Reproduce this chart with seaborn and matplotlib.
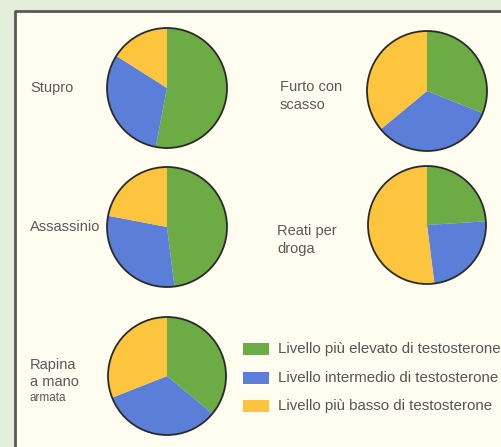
import matplotlib
matplotlib.use("Agg")
import matplotlib.pyplot as plt
from matplotlib.patches import Rectangle, Circle
import seaborn as sns

sns.set_theme(style="white")
plt.rcParams['font.family'] = ['Liberation Sans', 'DejaVu Sans']

# ---- data ----
crimes = ["Stupro", "Furto con\nscasso", "Assassinio", "Reati per\ndroga", "Rapina\na mano\narmata"]
levels = ["Livello più elevato di testosterone",
          "Livello intermedio di testosterone",
          "Livello più basso di testosterone"]
high = [53, 31, 48, 24, 36]
mid = [31, 33, 30, 24, 33]
low = [16, 36, 22, 52, 31]

colors = ["#6dab45", "#5b7fd8", "#fcc53d"]
W, H = 502, 447
fig = plt.figure(figsize=(W / 100, H / 100), dpi=100)
fig.patch.set_facecolor("#e3eedb")

bg = fig.add_axes([0, 0, 1, 1])
bg.set_xlim(0, W)
bg.set_ylim(H, 0)
bg.axis("off")
bg.add_patch(Rectangle((15, 11), W, H, facecolor="#fffdf0", edgecolor="none"))
bg.plot([15, 15, W], [H, 11, 11], color="#5a5a55", lw=2, solid_capstyle="butt")

# pie layout (pixel centres, radius)
layout = [(167, 88, 60), (427, 91, 60), (167, 227, 60), (427, 225, 59), (167, 376, 59)]
label_pos = [(30, 88), (280, 96), (30, 227), (277, 240), (30, 381)]

for i, (cx, cy, r) in enumerate(layout):
    pad = r + 3
    ax = fig.add_axes([(cx - pad) / W, 1 - (cy + pad) / H, 2 * pad / W, 2 * pad / H])
    ax.pie([high[i], mid[i], low[i]], colors=colors, startangle=90, counterclock=False,
           radius=1.0, wedgeprops=dict(linewidth=0))
    ax.add_patch(Circle((0, 0), 1.0, fill=False, edgecolor="#2a2a2a", lw=1.3))
    lim = pad / r
    ax.set_xlim(-lim, lim)
    ax.set_ylim(-lim, lim)
    ax.set_aspect("equal")
    ax.axis("off")

tc = "#5a5a5a"
for i, (lx, ly) in enumerate(label_pos):
    if i == 4:
        parts = crimes[i].split("\n")
        bg.text(lx, 365, parts[0], fontsize=10.5, color=tc, va="center", ha="left")
        bg.text(lx, 382, parts[1], fontsize=10.5, color=tc, va="center", ha="left")
        bg.text(lx, 398, parts[2], fontsize=8.5, color=tc, va="center", ha="left")
    else:
        bg.text(lx, ly, crimes[i], fontsize=10.5, color=tc, va="center", ha="left",
                linespacing=1.35)

# legend
for j, (lab, c) in enumerate(zip(levels, colors)):
    y = 349 + j * 28.5
    bg.add_patch(Rectangle((243, y - 6), 26, 12, facecolor=c, edgecolor="none"))
    bg.text(278, y, lab, fontsize=10.8, color="#555555", va="center", ha="left")

fig.savefig("out.png", dpi=100, facecolor=fig.get_facecolor())
